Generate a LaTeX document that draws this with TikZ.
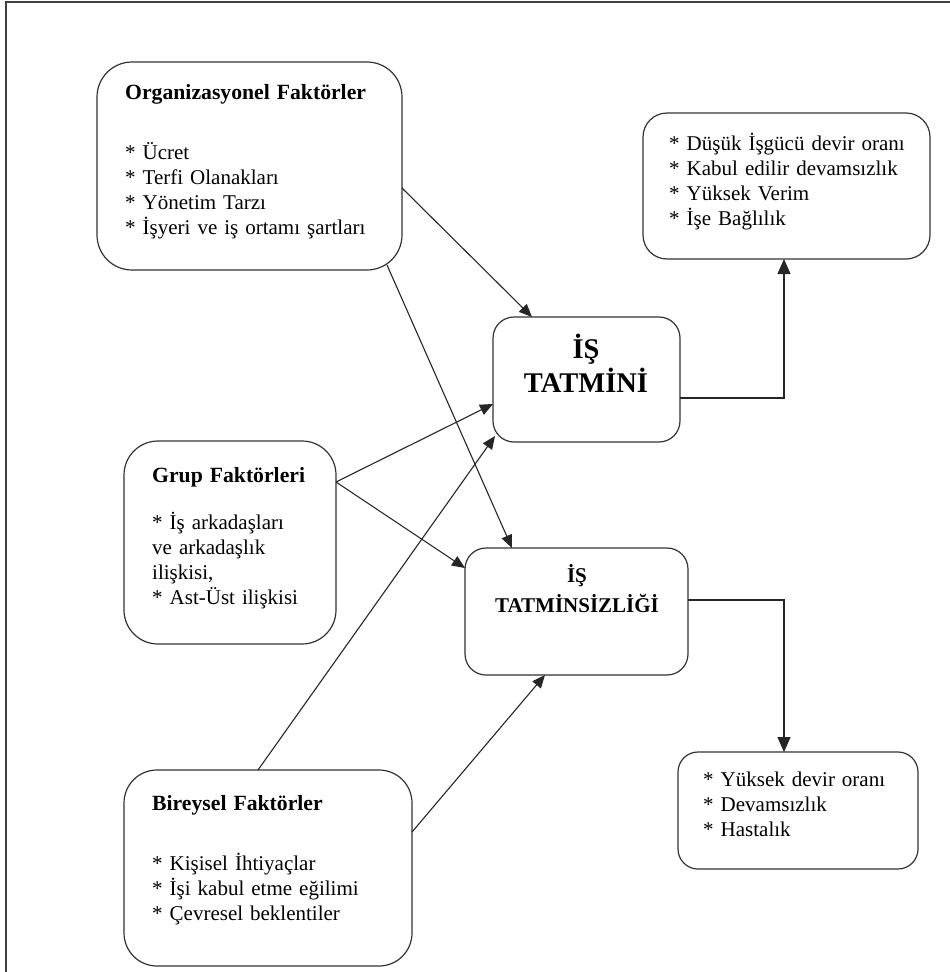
\documentclass[tikz,border=0pt]{standalone}
\usepackage{fontspec}
\setmainfont{Liberation Serif}
\usetikzlibrary{arrows.meta}
\tikzset{
  box/.style={draw=black!80, line width=1.2pt, rectangle, inner sep=0pt, outer sep=0pt},
  txt/.style={inner sep=0pt, anchor=base west, align=left, text width=#1,
    font=\fontsize{21}{25}\selectfont},
  head/.style={font=\fontsize{21.7}{25}\selectfont\bfseries},
  bigtxt/.style={inner sep=0pt, anchor=base, align=center, text width=#1},
  link/.style={draw=black!85, line width=1.1pt, -{Triangle[length=13pt,width=11pt]}},
  elbow/.style={draw=black!85, line width=1.2pt, -{Triangle[length=15pt,width=13pt]}},
  frameline/.style={draw=black!75, line width=1.6pt}
}
% list bullet written as a plain asterisk (kept in braces so \\ does not read it as \\*)
\newcommand{\itm}{{*}~}
\newcommand{\hd}[1]{{\fontsize{21.7}{25}\selectfont\bfseries #1}}
\begin{document}
\begin{tikzpicture}[x=1pt, y=-1pt]
\useasboundingbox (0,0) rectangle (950,972);

% page frame (top and left rules only)
\coordinate (fbl) at (6,972);
\coordinate (ftr) at (950,2);
\draw[frameline] (fbl) |- (ftr);

% boxes
\node[box, minimum width=305pt, minimum height=208pt, rounded corners=35pt] (org) at (249.5,166) {};
\node[box, minimum width=287pt, minimum height=146pt, rounded corners=24pt] (outA) at (786.5,186) {};
\node[box, minimum width=187pt, minimum height=125pt, rounded corners=21pt] (sat) at (586.5,379.5) {};
\node[box, minimum width=212pt, minimum height=203pt, rounded corners=34pt] (grup) at (230,542.5) {};
\node[box, minimum width=223pt, minimum height=127pt, rounded corners=21pt] (dis) at (576.5,611.5) {};
\node[box, minimum width=288pt, minimum height=196pt, rounded corners=33pt] (bir) at (268,868) {};
\node[box, minimum width=240pt, minimum height=117pt, rounded corners=20pt] (outB) at (798,810.5) {};

% texts
\node[txt=270pt] (orgT) at (125,99) {\hd{Organizasyonel Faktörler}\\[35pt]
  \itm Ücret\\ \itm Terfi Olanakları\\ \itm Yönetim Tarzı\\ \itm İşyeri ve iş ortamı şartları};
\node[txt=255pt] (outAT) at (669,150) {\itm Düşük İşgücü devir oranı\\
  \itm Kabul edilir devamsızlık\\ \itm Yüksek Verim\\ \itm İşe Bağlılık};
\node[bigtxt=180pt, font=\fontsize{28.5}{34}\selectfont\bfseries] (satT) at (586,358) {İŞ\\ TATMİNİ};
\node[txt=180pt] (grupT) at (152,482) {\hd{Grup Faktörleri}\\[22pt]
  \itm İş arkadaşları\\ ve arkadaşlık\\ ilişkisi,\\ \itm Ast-Üst ilişkisi};
\node[bigtxt=215pt, font=\fontsize{21}{30}\selectfont\bfseries] (disT) at (577,582) {İŞ\\ TATMİNSİZLİĞİ};
\node[txt=255pt] (birT) at (152,810) {\hd{Bireysel Faktörler}\\[35pt]
  \itm Kişisel İhtiyaçlar\\ \itm İşi kabul etme eğilimi\\ \itm Çevresel beklentiler};
\node[txt=210pt] (outBT) at (703,786) {\itm Yüksek devir oranı\\ \itm Devamsızlık\\ \itm Hastalık};

% influences
\draw[link] ([yshift=-22pt]org.east) -- ([xshift=-54.5pt]sat.north);
\draw[link] ([xshift=-15pt,yshift=5pt]org.south east) -- ([xshift=-64.5pt]dis.north);
\draw[link] ([yshift=60.5pt]grup.east) -- ([yshift=-24.5pt]sat.west);
\draw[link] ([yshift=60.5pt]grup.east) -- ([yshift=43.5pt]dis.west);
\draw[link] ([xshift=-10pt]bir.north) -- ([xshift=2pt,yshift=6pt]sat.south west);
\draw[link] ([yshift=36pt]bir.east) -- ([xshift=-31.5pt]dis.south);

% outcomes
\draw[elbow] ([yshift=-18.5pt]sat.east) -| ([xshift=-2.5pt]outA.south);
\draw[elbow] ([yshift=11.5pt]dis.east) -| ([xshift=-14pt]outB.north);
\end{tikzpicture}
\end{document}
